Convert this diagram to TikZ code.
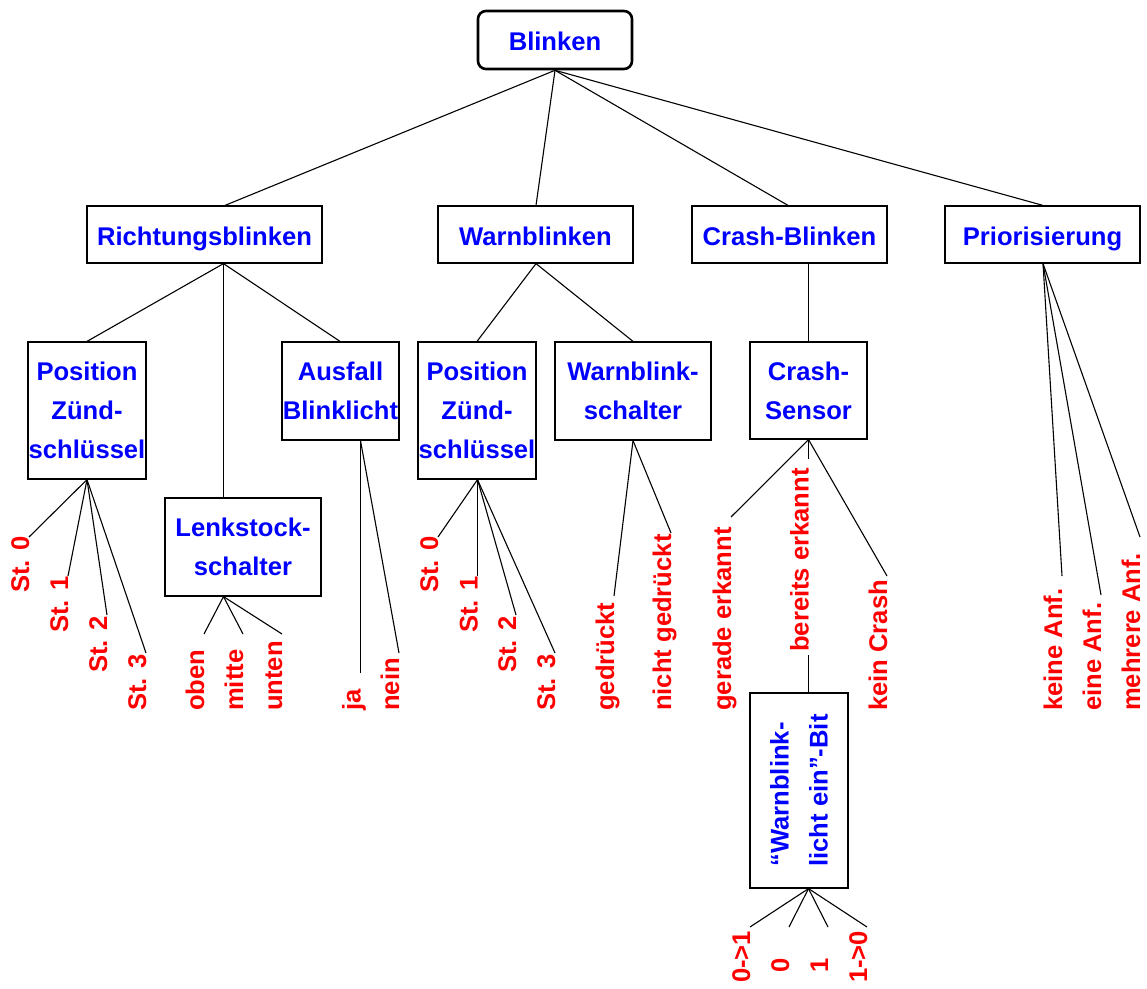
\documentclass[tikz,border=0pt]{standalone}
\usepackage{fontspec}
\setmainfont{Liberation Sans}
% one leaf: #1 name, #2 parent point, #3 baseline x, #4 y where the link ends,
% #5 y where the rotated text starts, #6 text
\newcommand\leafitem[6]{%
  \coordinate (#1-end) at (#3,#4);
  \node[leaf] (#1) at (#3,#5) {#6};
  \draw[link] (#2) -- (#1-end);
}
\begin{document}
\begin{tikzpicture}[x=1pt,y=-1pt,
  every node/.style={font=\fontsize{25.6}{39}\selectfont\bfseries},
  box/.style={draw, line width=1.2pt, inner sep=0pt, align=center, text=blue},
  onebox/.style={box, text height=21pt, text depth=0pt},
  rootbox/.style={onebox, rounded corners=8pt, line width=2.6pt},
  leaf/.style={rotate=90, anchor=base west, inner sep=0pt, text=red},
  link/.style={line width=1.1pt}]
\useasboundingbox (0,0) rectangle (1147,988);

% root and first level
\node[rootbox, minimum width=154pt, minimum height=58pt] (blinken) at (555,40) {Blinken};
\node[onebox, minimum width=235pt, minimum height=57pt] (rb) at (204.5,234.5) {Richtungsblinken};
\node[onebox, minimum width=195pt, minimum height=57pt] (wb) at (535.5,234.5) {Warnblinken};
\node[onebox, minimum width=195pt, minimum height=57pt] (cb) at (789.5,234.5) {Crash-Blinken};
\node[onebox, minimum width=195pt, minimum height=57pt] (pr) at (1042.5,234.5) {Priorisierung};

% second level
\node[box, minimum width=118pt, minimum height=137pt] (pz1) at (87,410.5) {Position\\Zünd-\\schlüssel};
\node[box, minimum width=156pt, minimum height=98pt] (lk) at (243,547) {Lenkstock-\\schalter};
\node[box, minimum width=117pt, minimum height=98pt] (au) at (340.5,391) {Ausfall\\Blinklicht};
\node[box, minimum width=118pt, minimum height=137pt] (pz2) at (477,410.5) {Position\\Zünd-\\schlüssel};
\node[box, minimum width=156pt, minimum height=98pt] (ws) at (633,391) {Warnblink-\\schalter};
\node[box, minimum width=117pt, minimum height=97pt] (cs) at (808.5,390.5) {Crash-\\Sensor};
\node[box, rotate=90, align=left, minimum width=195pt, minimum height=98pt] (bit) at (799,790.5)
  {“Warnblink-\\licht ein”-Bit};

% attachment points
\coordinate (blinken-b) at (blinken.south);
\coordinate (rb-t) at ([xshift=20.5pt]rb.north);
\coordinate (rb-b) at ([xshift=19pt]rb.south);
\coordinate (wb-t) at ([xshift=0.5pt]wb.north);
\coordinate (wb-b) at ([xshift=0.5pt]wb.south);
\coordinate (cb-t) at ([xshift=-1.5pt]cb.north);
\coordinate (cb-b) at ([xshift=19pt]cb.south);
\coordinate (pr-t) at ([xshift=0.5pt]pr.north);
\coordinate (pr-b) at ([xshift=0.5pt]pr.south);
\coordinate (pz2-b) at ([xshift=0.5pt]pz2.south);
\coordinate (lk-t) at ([xshift=-19.5pt]lk.north);
\coordinate (lk-b) at ([xshift=-19.5pt]lk.south);
\coordinate (au-t) at ([xshift=-0.5pt]au.north);
\coordinate (au-b) at ([xshift=20pt]au.south);
\coordinate (bit-t) at ([xshift=9.5pt]bit.east);
\coordinate (bit-b) at ([xshift=9.5pt]bit.west);

% tree links between boxes
\draw[link] (blinken-b) -- (rb-t);
\draw[link] (blinken-b) -- (wb-t);
\draw[link] (blinken-b) -- (cb-t);
\draw[link] (blinken-b) -- (pr-t);
\draw[link] (rb-b) -- (pz1.north);
\draw[link] (rb-b) -- (lk-t);
\draw[link] (rb-b) -- (au-t);
\draw[link] (wb-b) -- (pz2.north);
\draw[link] (wb-b) -- (ws.north);
\draw[link] (cb-b) -- (cs.north);

% leaves of the ignition key position
\leafitem{pa0}{pz1.south}{29}{537}{593}{St. 0}
\leafitem{pa1}{pz1.south}{68}{576}{633}{St. 1}
\leafitem{pa2}{pz1.south}{107}{615}{673}{St. 2}
\leafitem{pa3}{pz1.south}{146}{653}{711}{St. 3}
% steering column switch
\leafitem{lo}{lk-b}{204}{634}{711}{oben}
\leafitem{lm}{lk-b}{243}{634}{711}{mitte}
\leafitem{lu}{lk-b}{282}{634}{711}{unten}
% lamp failure
\leafitem{aj}{au-b}{360.5}{673}{711}{ja}
\leafitem{an}{au-b}{399}{653}{711}{nein}
% ignition key position (hazard)
\leafitem{pb0}{pz2-b}{438}{537}{593}{St. 0}
\leafitem{pb1}{pz2-b}{477.5}{576}{633}{St. 1}
\leafitem{pb2}{pz2-b}{516}{615}{673}{St. 2}
\leafitem{pb3}{pz2-b}{555}{653}{711}{St. 3}
% hazard switch
\leafitem{wg}{ws.south}{614}{596}{711}{gedrückt}
\leafitem{wn}{ws.south}{671}{533}{711}{nicht gedrückt}
% crash sensor
\leafitem{cg}{cs.south}{731}{517}{711}{gerade erkannt}
\leafitem{cbe}{cs.south}{808.5}{459}{652}{bereits erkannt}
\leafitem{ck}{cs.south}{887}{576}{711}{kein Crash}
\draw[link] ([yshift=-3pt]cbe.base west) -- (bit-t);
% hazard light bit
\leafitem{b01}{bit-b}{750}{927}{983}{0->1}
\leafitem{b0}{bit-b}{789}{927}{973}{0}
\leafitem{b1}{bit-b}{828}{927}{973}{1}
\leafitem{b10}{bit-b}{867}{927}{983}{1->0}
% prioritisation
\leafitem{rk}{pr-b}{1062}{576}{711}{keine Anf.}
\leafitem{re}{pr-b}{1101}{595}{711}{eine Anf.}
\leafitem{rm}{pr-b}{1140}{537}{711}{mehrere Anf.}
\end{tikzpicture}
\end{document}
